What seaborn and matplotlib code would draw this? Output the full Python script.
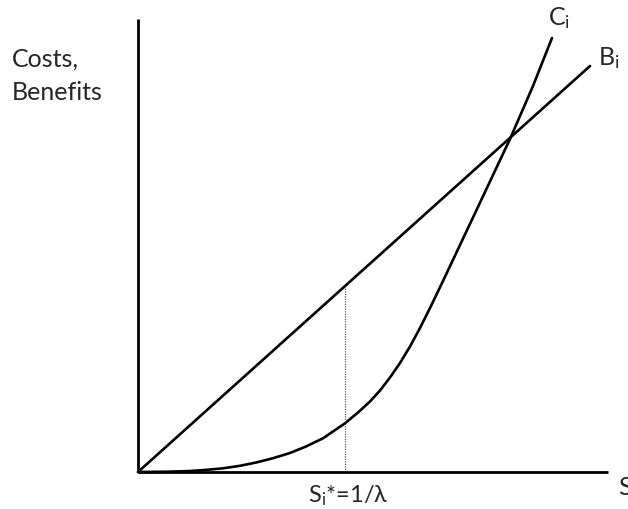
import matplotlib
matplotlib.use("Agg")
import matplotlib.pyplot as plt
import seaborn as sns
import pandas as pd

sns.set_theme(style="white")
plt.rcParams['font.family'] = ['Lato', 'DejaVu Sans']
plt.rcParams['mathtext.fontset'] = 'custom'
plt.rcParams['mathtext.rm'] = 'Lato'
plt.rcParams['mathtext.it'] = 'Lato'

# Cost curve C_i
cost_s = [0.00, 0.30, 0.52, 0.68, 0.85, 1.02, 1.19, 1.35, 1.52, 1.68, 1.85,
          2.07, 2.20, 2.32, 2.42, 2.52, 2.62, 2.72, 2.82, 2.93, 3.05, 3.39,
          3.72, 3.95, 4.14]
cost_v = [0.000, 0.003, 0.010, 0.021, 0.037, 0.062, 0.097, 0.138, 0.190, 0.255,
          0.337, 0.487, 0.595, 0.705, 0.815, 0.945, 1.090, 1.255, 1.440, 1.660,
          1.910, 2.630, 3.330, 3.860, 4.340]
# Benefit line B_i
benefit_s = [0.00, 4.52]
benefit_v = [0.00, 4.06]
# Optimum S_i* = 1/lambda
opt_s = [2.07, 2.07]
opt_v = [0.00, 1.86]
# Axis extents
xaxis_s = [0.00, 4.70]
xaxis_v = [0.00, 0.00]
yaxis_s = [0.00, 0.00]
yaxis_v = [0.00, 4.53]

fig = plt.figure(figsize=(6.28, 5.10), dpi=100)
ax = fig.add_axes([0, 0, 1, 1])

cost_df = pd.DataFrame({"S": cost_s, "V": cost_v})
ben_df = pd.DataFrame({"S": benefit_s, "V": benefit_v})

lw = 1.9
sns.lineplot(data=cost_df, x="S", y="V", ax=ax, color="black", lw=lw,
             sort=False, estimator=None)
sns.lineplot(data=ben_df, x="S", y="V", ax=ax, color="black", lw=lw,
             sort=False, estimator=None)
ax.plot(opt_s, opt_v, color="#555555", lw=0.9, ls=(0, (1, 1)))
ax.plot(xaxis_s, xaxis_v, color="black", lw=2.0, solid_capstyle="butt")
ax.plot(yaxis_s, yaxis_v, color="black", lw=2.0, solid_capstyle="butt")

ax.set_xlim(-1.38, 4.90)
ax.set_ylim(-0.37, 4.73)
ax.axis("off")

fs = 18
ax.text(-1.26, 4.06, "Costs,", fontsize=fs, va="baseline", ha="left")
ax.text(-1.26, 3.73, "Benefits", fontsize=fs, va="baseline", ha="left")
ax.text(1.70, -0.29, r"$\mathrm{S_i}$*=1/λ", fontsize=17, va="baseline", ha="left")
ax.text(4.80, -0.22, "S", fontsize=fs, va="baseline", ha="left")
ax.text(4.10, 4.48, r"$\mathrm{C_i}$", fontsize=fs, va="baseline", ha="left")
ax.text(4.60, 4.08, r"$\mathrm{B_i}$", fontsize=fs, va="baseline", ha="left")

fig.savefig("out.png", dpi=100, facecolor="white")
